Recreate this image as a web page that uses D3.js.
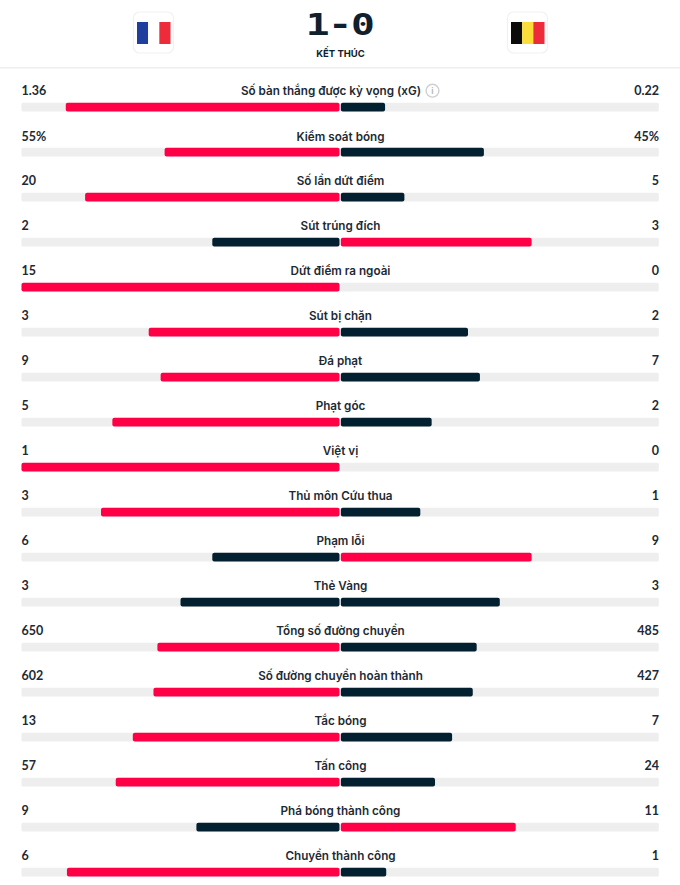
<!DOCTYPE html>
<html><head><meta charset="utf-8">
<script src="https://cdn.jsdelivr.net/npm/d3@7/dist/d3.min.js"></script>
<style>html,body{margin:0;padding:0;background:#fff;overflow:hidden}svg{display:block}
text{font-family:Inter,"Noto Sans",sans-serif;font-weight:600;fill:#1d2a35}
.num{font-family:Lato,Inter,sans-serif;font-weight:700;font-size:12.5px}</style>
</head><body><svg id="c" width="680" height="885"></svg>
<script>
const categories=["Số bàn thắng được kỳ vọng (xG)","Kiểm soát bóng","Số lần dứt điểm","Sút trúng đích","Dứt điểm ra ngoài","Sút bị chặn","Đá phạt","Phạt góc","Việt vị","Thủ môn Cứu thua","Phạm lỗi","Thẻ Vàng","Tổng số đường chuyền","Số đường chuyền hoàn thành","Tắc bóng","Tấn công","Phá bóng thành công","Chuyền thành công"];
const homeValues=[1.36,55,20,2,15,3,9,5,1,3,6,3,650,602,13,57,9,6];
const awayValues=[0.22,45,5,3,0,2,7,2,0,1,9,3,485,427,7,24,11,1];
const homeLabels=["1.36","55%","20","2","15","3","9","5","1","3","6","3","650","602","13","57","9","6"];
const awayLabels=["0.22","45%","5","3","0","2","7","2","0","1","9","3","485","427","7","24","11","1"];
const franceFlag=["#1f3f9e","#ffffff","#ee2b3b"];
const belgiumFlag=["#0b0b0b","#fbdd3a","#ee2b3b"];
const RED="#ff0046",DARK="#02202f",TRACK="#eeeeee";
const svg=d3.select("#c");
const W=680;
const yRow=d3.scaleBand().domain(d3.range(categories.length)).range([81,891]);
const leftX=d3.scaleLinear().domain([0,1]).range([339.5,21.5]);
const rightX=d3.scaleLinear().domain([0,1]).range([340.8,658.8]);

// header
svg.append("rect").attr("x",0).attr("y",67).attr("width",W).attr("height",1.6).attr("fill","#efefef");
function flag(x,colors){
  const g=svg.append("g").attr("transform",`translate(${x},12)`);
  g.append("rect").attr("x",0).attr("y",0).attr("width",40).attr("height",41).attr("rx",6)
   .attr("fill","#fff").attr("stroke","#f1f1f1").attr("stroke-width",1.2);
  const fx=d3.scaleBand().domain([0,1,2]).range([3.5,37]);
  g.selectAll("rect.s").data(colors).join("rect").attr("class","s")
   .attr("x",(d,i)=>fx(i)).attr("y",10).attr("width",fx.bandwidth()).attr("height",22).attr("fill",d=>d);
}
flag(133.5,franceFlag);
flag(507.5,belgiumFlag);
svg.append("text").attr("transform","translate(334,35) scale(1.28,1)").attr("text-anchor","middle")
  .style("font-family","'DejaVu Sans Mono',monospace").style("font-weight",700).style("font-size","31px")
  .style("letter-spacing","-9.8px").style("fill","#10202c").text("1 - 0");
svg.append("text").attr("x",340.5).attr("y",57).attr("text-anchor","middle")
  .style("font-size","9.5px").style("font-weight",700).style("fill","#10202c").text("KẾT THÚC");

// rows
const rows=svg.selectAll("g.row").data(categories.map((c,i)=>({c,i,h:homeValues[i],a:awayValues[i],hl:homeLabels[i],al:awayLabels[i]})))
 .join("g").attr("class","row").attr("transform",d=>`translate(0,${yRow(d.i)})`);
const ty=d=>d.i===1?15.2:14;
rows.append("text").attr("class","num").attr("x",21.5).attr("y",ty).text(d=>d.hl);
rows.append("text").attr("class","num").attr("x",659).attr("y",ty).attr("text-anchor","end").text(d=>d.al);
rows.append("text").attr("x",d=>d.i===0?331:340.5).attr("y",ty).attr("text-anchor","middle").style("font-size","11.7px").text(d=>d.c);
const BY=21.8,BH=8.8;
rows.append("rect").attr("x",leftX(1)).attr("y",BY).attr("width",leftX(0)-leftX(1)).attr("height",BH).attr("rx",1.5).attr("fill",TRACK);
rows.append("rect").attr("x",rightX(0)).attr("y",BY).attr("width",rightX(1)-rightX(0)).attr("height",BH).attr("rx",1.5).attr("fill",TRACK);
rows.append("rect").attr("x",d=>leftX(d.h/(d.h+d.a))).attr("y",BY).attr("width",d=>leftX(0)-leftX(d.h/(d.h+d.a))).attr("height",BH).attr("rx",2)
  .attr("fill",d=>d.h>d.a?RED:DARK);
rows.append("rect").attr("x",rightX(0)).attr("y",BY).attr("width",d=>rightX(d.a/(d.h+d.a))-rightX(0)).attr("height",BH).attr("rx",2)
  .attr("fill",d=>d.a>d.h?RED:DARK);
// info icon next to xG
const info=svg.append("g").attr("transform","translate(432.5,90.7)");
info.append("circle").attr("r",6.4).attr("fill","none").attr("stroke","#cfcfcf").attr("stroke-width",1.4);
info.append("text").attr("y",3.3).attr("text-anchor","middle").style("font-size","9px").style("fill","#b5b5b5").text("i");
</script></body></html>
